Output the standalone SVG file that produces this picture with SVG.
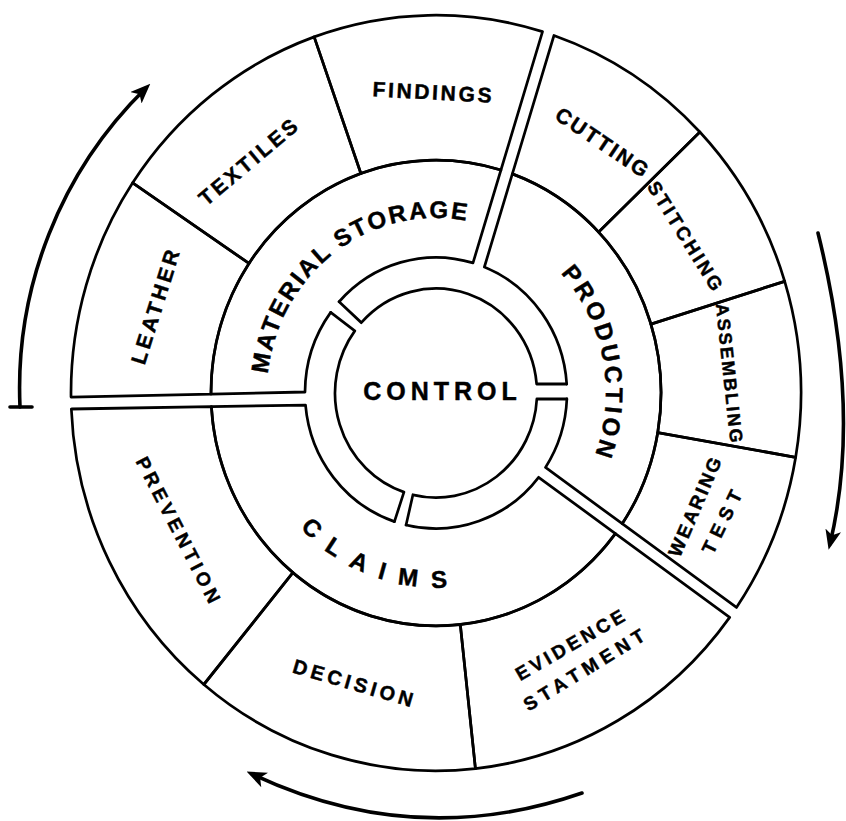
<svg xmlns="http://www.w3.org/2000/svg" width="846" height="821" viewBox="0 0 846 821">
<defs>
<style>
.ln{fill:none;stroke:#000;stroke-width:2.7;stroke-linejoin:round;stroke-linecap:round}
.lb{font-family:"Liberation Sans",Arial,Helvetica,sans-serif;font-weight:bold;fill:#000;stroke:#000;stroke-width:0.45}
.arw{fill:none;stroke:#000;stroke-width:3.6;stroke-linecap:round}
</style>
<marker id="ah" viewBox="0 0 20 16" refX="14" refY="8" markerWidth="20" markerHeight="16" orient="auto" markerUnits="userSpaceOnUse">
<path d="M0,0 L20,8 L0,16 L5,8 Z" fill="#000"/>
</marker>
<path id="pMS" d="M278.2,455.7 A169,175 0 0 1 542.4,257.0"/>
<path id="pPR" d="M460.5,218.8 A170,176 0 0 1 525.3,542.7"/>
<path id="pCL" d="M249.0,373.0 A188,194.6 0 0 0 588.3,507.1"/>
</defs>
<rect width="846" height="821" fill="#fff"/>

<g id="control">
<g transform="translate(436,393) scale(1,1.035)">
<path class="ln" d="M-96.89,-88.17 L-74.70,-67.97 A101,101 0 0 1 100.62,-8.7 L130.71,-8.7"/>
<path class="ln" d="M130.87,5.8 L100.83,5.8 A101,101 0 0 1 -23.07,98.33 L-29.92,127.54"/>
<path class="ln" d="M-41.57,124.23 L-32.05,95.78 A101,101 0 0 1 -81.19,-60.07 L-105.31,-77.92"/>
</g>
<text class="lb" x="442.5" y="391" font-size="25" letter-spacing="5" text-anchor="middle" dominant-baseline="central">CONTROL</text>
</g>

<g id="material-storage">
<path class="ln" transform="translate(436,393) scale(1,1.035)" d="M-105.31,-77.92 A131,131 0 0 0 -131,-0.96 L-225,1.0 A225,225 0 0 1 64.94,-215.43 L37.0,-125.7 A131,131 0 0 0 -96.89,-88.17"/>
<text class="lb" font-size="24" letter-spacing="2.3" text-anchor="middle"><textPath href="#pMS" startOffset="50%">MATERIAL STORAGE</textPath></text>
</g>

<g id="production">
<path class="ln" transform="translate(436,393) scale(1,1.035)" d="M130.71,-8.7 A131,131 0 0 0 48.39,-121.73 L76.35,-211.66 A225,225 0 0 1 186.21,126.29 L109.48,71.94 A131,131 0 0 0 130.87,5.8"/>
<text class="lb" font-size="24" letter-spacing="3.6" text-anchor="middle"><textPath href="#pPR" startOffset="50.6%">PRODUCTION</textPath></text>
</g>

<g id="claims">
<path class="ln" transform="translate(436,393) scale(1,1.035)" d="M-29.92,127.54 A131,131 0 0 0 102.62,81.42 L179.4,135.81 A225,225 0 0 1 -224.61,13.17 L-130.48,11.62 A131,131 0 0 0 -41.57,124.23"/>
<text class="lb" font-size="24" letter-spacing="14.4" text-anchor="middle"><textPath href="#pCL" startOffset="51.5%">CLAIMS</textPath></text>
</g>

<g id="leather">
<path class="ln" transform="translate(436,393) scale(1,1.035)" d="M-225,1.0 L-364.98,3.9 A365,365 0 0 1 -303.32,-203.05 L-186.98,-125.17 A225,225 0 0 0 -225,1.0 Z"/>
<text class="lb" font-size="21" letter-spacing="3.5" text-anchor="middle" dominant-baseline="central" x="1.8" transform="translate(155,307) rotate(-72.6)">LEATHER</text>
</g>

<g id="textiles">
<path class="ln" transform="translate(436,393) scale(1,1.035)" d="M-186.98,-125.17 L-303.32,-203.05 A365,365 0 0 1 -121.84,-344.06 L-75.11,-212.09 A225,225 0 0 0 -186.98,-125.17 Z"/>
<text class="lb" font-size="21" letter-spacing="3" text-anchor="middle" dominant-baseline="central" x="1.5" transform="translate(248,162) rotate(-40)">TEXTILES</text>
</g>

<g id="findings">
<path class="ln" transform="translate(436,393) scale(1,1.035)" d="M-75.11,-212.09 L-121.84,-344.06 A365,365 0 0 1 106.52,-349.13 L64.94,-215.43 A225,225 0 0 0 -75.11,-212.09 Z"/>
<text class="lb" font-size="21" letter-spacing="2.7" text-anchor="middle" dominant-baseline="central" x="1.4" transform="translate(432,92) rotate(3)">FINDINGS</text>
</g>

<g id="cutting">
<path class="ln" transform="translate(436,393) scale(1,1.035)" d="M76.35,-211.66 L117.96,-345.44 A365,365 0 0 1 263.88,-252.17 L162.67,-155.45 A225,225 0 0 0 76.35,-211.66 Z"/>
<text class="lb" font-size="21" letter-spacing="2.3" text-anchor="middle" dominant-baseline="central" x="1.2" transform="translate(602,142) rotate(34)">CUTTING</text>
</g>

<g id="stitching">
<path class="ln" transform="translate(436,393) scale(1,1.035)" d="M162.67,-155.45 L263.88,-252.17 A365,365 0 0 1 348.68,-107.93 L214.94,-66.53 A225,225 0 0 0 162.67,-155.45 Z"/>
<text class="lb" font-size="19" letter-spacing="2.8" text-anchor="middle" dominant-baseline="central" x="1.4" transform="translate(685,236) rotate(58)">STITCHING</text>
</g>

<g id="assembling">
<path class="ln" transform="translate(436,393) scale(1,1.035)" d="M214.94,-66.53 L348.68,-107.93 A365,365 0 0 1 359.67,62.13 L221.72,38.30 A225,225 0 0 0 214.94,-66.53 Z"/>
<text class="lb" font-size="18" letter-spacing="2.2" text-anchor="middle" dominant-baseline="central" x="1.1" transform="translate(729,373) rotate(84)">ASSEMBLING</text>
</g>

<g id="wearing-test">
<path class="ln" transform="translate(436,393) scale(1,1.035)" d="M221.72,38.30 L359.67,62.13 A365,365 0 0 1 300.47,207.22 L186.21,126.29 A225,225 0 0 0 221.72,38.30 Z"/>
<text class="lb" font-size="19" letter-spacing="2.4" text-anchor="middle" dominant-baseline="central" x="1.2" transform="translate(695,507) rotate(-66.6)">WEARING</text>
<text class="lb" font-size="19" letter-spacing="6.5" text-anchor="middle" dominant-baseline="central" x="3.2" transform="translate(722,522) rotate(-64)">TEST</text>
</g>

<g id="evidence-statment">
<path class="ln" transform="translate(436,393) scale(1,1.035)" d="M179.4,135.81 L293.67,216.75 A365,365 0 0 1 39.42,362.86 L24.30,223.68 A225,225 0 0 0 179.4,135.81 Z"/>
<text class="lb" font-size="19" letter-spacing="3.6" text-anchor="middle" dominant-baseline="central" x="1.8" transform="translate(570,645) rotate(-30)">EVIDENCE</text>
<text class="lb" font-size="19" letter-spacing="5.4" text-anchor="middle" dominant-baseline="central" x="2.7" transform="translate(584,670) rotate(-31.5)">STATMENT</text>
</g>

<g id="decision">
<path class="ln" transform="translate(436,393) scale(1,1.035)" d="M24.30,223.68 L39.42,362.86 A365,365 0 0 1 -232.17,281.64 L-143.12,173.61 A225,225 0 0 0 24.30,223.68 Z"/>
<text class="lb" font-size="20" letter-spacing="3.9" text-anchor="middle" dominant-baseline="central" x="2" transform="translate(353,683) rotate(16.3)">DECISION</text>
</g>

<g id="prevention">
<path class="ln" transform="translate(436,393) scale(1,1.035)" d="M-143.12,173.61 L-232.17,281.64 A365,365 0 0 1 -364.67,15.48 L-224.61,13.17 A225,225 0 0 0 -143.12,173.61 Z"/>
<text class="lb" font-size="19" letter-spacing="4.2" text-anchor="middle" dominant-baseline="central" x="2.1" transform="translate(178,530) rotate(62.7)">PREVENTION</text>
</g>

<g id="connectors">
<path class="arw" d="M10,407 L32,407"/>
<path class="arw" d="M20,407 A420,420 0 0 1 146,88" marker-end="url(#ah)"/>
<path class="arw" d="M818,233 Q862,410 830,544" marker-end="url(#ah)"/>
<path class="arw" d="M582,793 Q415,851 252,774" marker-end="url(#ah)"/>
</g>
</svg>
